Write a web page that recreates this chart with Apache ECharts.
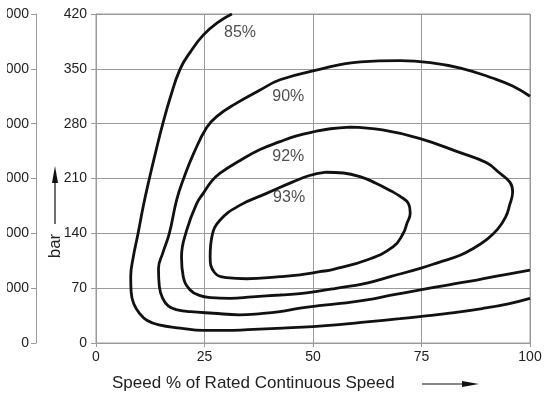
<!DOCTYPE html>
<html>
<head>
<meta charset="utf-8">
<script src="https://cdn.jsdelivr.net/npm/echarts@6/dist/echarts.min.js"></script>
<style>
  html, body { margin: 0; padding: 0; background: #fff; }
  /* the figure is trimmed on its left edge, hiding the leading digits of the psi scale */
  #frame { position: absolute; left: 7px; top: 0; width: 537px; height: 396px; overflow: hidden; }
  #chart { position: absolute; left: -7px; top: 0; width: 544px; height: 396px; }
</style>
</head>
<body>
<div id="frame"><div id="chart"></div></div>
<script>
// Speed axis (% of rated continuous speed) and pressure axis (bar)
const speedTicks = [0, 25, 50, 75, 100];
const barTicks = [0, 70, 140, 210, 280, 350, 420];
const psiTicks = ['0', '1000', '2000', '3000', '4000', '5000', '6000'];

// Efficiency contours as [speed %, pressure bar]
const eff85 = [[31.3,420],[28,409],[24.7,393],[21.8,372],[19.4,350],[17.2,315],[15.4,280],[13.8,245],
  [12.3,210],[10.9,175],[9.7,140],[8.6,110],[8.0,85],[8.1,65],[8.7,50],[10,38],[11.7,29],[14.5,23],
  [19.4,19],[24.7,16],[30,16],[35,17],[43,19],[50,21],[56,23.5],[62.4,27],[70,31],[75,34],[82,38.5],
  [89,44],[95,50],[100,57]];
const eff90 = [[100,315],[96,328],[91.5,338],[84,351],[77,358],[70,360.5],[61,359],[50.5,348],
  [42.4,336],[37.8,323],[32,305],[28,290],[25.5,275],[22.5,242],[20.2,210],[18.6,183],[16.9,140],
  [15.4,115],[14.4,95],[14.6,72],[15.3,58],[16.7,47],[19,42],[21.7,40],[27,38],[33,36],[38,37.5],
  [42.4,40],[47,44.5],[52,48],[57,51],[62.4,55],[68,61],[74.7,67.7],[81,74],[87.7,80.4],[94,87],[100,93]];
const eff92 = [[58.5,275.5],[66,272],[74.7,261],[83.9,243],[90,230],[93,217],[95.4,205],[96,193],
  [95.3,176],[94.4,161],[92.5,145],[90,132],[87,121],[83.9,112],[79,103],[74.7,95.3],[68,85],[62.4,76.5],
  [55,69.5],[51.6,66.5],[47,63],[42.4,61.3],[36,59],[30.9,57],[26.5,58],[24,60.5],[21.7,67.7],[20.1,84.7],
  [19.7,110],[20.9,144],[23.2,178],[24.7,191],[26.7,207],[28.6,217],[33.2,233],[37.8,247],[42.4,257],
  [46,264],[50.5,270],[54,273.5],[58.5,275.5]];
const eff93 = [[53,218],[57,217],[61,212],[64.5,204],[68,194],[70,187.5],[72,178],[72.4,166],[71.6,152],
  [70.8,140],[68.5,123],[62.4,106],[54.7,94],[51.6,91],[47,87],[42.4,84.7],[34.7,82],[30.1,83.4],[27.3,90],
  [26.3,110],[26.7,135.7],[28.6,157],[33.2,176],[39.3,191],[45.5,206],[49,213.5],[53,218]];

const contourNames = ['85%', '90%', '92%', '93%'];
const contours = [eff85, eff90, eff92, eff93];
// label anchor points [speed %, bar] for each contour
const labelPoints = [[33.2,396],[44.3,314.5],[44.3,238],[44.5,185]];

const axisGray = '#9a9a9a';
const textColor = '#222';
const tickFont = '"Liberation Sans", Arial, Helvetica, sans-serif';
const plainFont = '"Liberation Sans", Arial, Helvetica, sans-serif';

const chart = echarts.init(document.getElementById('chart'), null, { renderer: 'canvas' });

const series = contours.map((pts, i) => ({
  name: contourNames[i],
  type: 'line',
  data: pts,
  smooth: 0.45,
  symbol: 'none',
  lineStyle: { color: '#111', width: 2.8 },
  z: 5
}));

series.push({
  type: 'scatter',
  symbolSize: 0,
  data: labelPoints.map((p, i) => ({ value: p, name: contourNames[i] })),
  label: {
    show: true,
    position: 'inside',
    formatter: p => p.name,
    color: textColor,
    fontSize: 16,
    fontFamily: plainFont
  },
  z: 6
});

chart.setOption({
  animation: false,
  backgroundColor: '#fff',
  grid: {
    left: 96, right: 14, top: 14, bottom: 53,
    containLabel: false,
    outerBoundsMode: 'none',
    show: true, borderColor: axisGray, borderWidth: 1
  },
  xAxis: {
    type: 'value',
    min: speedTicks[0], max: speedTicks[speedTicks.length - 1], interval: 25,
    axisLine: { show: true, lineStyle: { color: axisGray, width: 1 } },
    axisTick: { show: true, length: 4, lineStyle: { color: axisGray } },
    axisLabel: { margin: 7, color: textColor, fontSize: 14, fontFamily: tickFont },
    splitLine: { show: true, lineStyle: { color: axisGray, width: 1 } }
  },
  yAxis: [{
    type: 'value',
    min: barTicks[0], max: barTicks[barTicks.length - 1], interval: 70,
    axisLine: { show: true, lineStyle: { color: axisGray, width: 1 } },
    axisTick: { show: true, length: 5, lineStyle: { color: axisGray } },
    axisLabel: { margin: 9, color: textColor, fontSize: 14, fontFamily: tickFont },
    splitLine: { show: true, lineStyle: { color: axisGray, width: 1 } }
  }, {
    type: 'value',
    position: 'left',
    offset: 60,
    min: barTicks[0], max: barTicks[barTicks.length - 1], interval: 70,
    axisLine: { show: true, lineStyle: { color: axisGray, width: 1 } },
    axisTick: { show: true, length: 5, lineStyle: { color: axisGray } },
    axisLabel: {
      margin: 7, color: textColor, fontSize: 14, fontFamily: tickFont,
      formatter: v => psiTicks[barTicks.indexOf(v)]
    },
    splitLine: { show: false }
  }],
  graphic: [
    {
      type: 'text', left: 112, top: 375,
      style: { text: 'Speed % of Rated Continuous Speed', fill: textColor, font: '17px ' + plainFont }
    },
    { type: 'line', shape: { x1: 422, y1: 384, x2: 466, y2: 384 }, style: { stroke: '#111', lineWidth: 1.2 } },
    { type: 'polygon', shape: { points: [[462, 381], [479, 384], [462, 387]] }, style: { fill: '#111' } },
    {
      type: 'text', x: 55, y: 246, rotation: Math.PI / 2,
      style: { text: 'bar', fill: textColor, font: '17px ' + plainFont, align: 'center', verticalAlign: 'middle' }
    },
    { type: 'line', shape: { x1: 55, y1: 224, x2: 55, y2: 178 }, style: { stroke: '#111', lineWidth: 1.2 } },
    { type: 'polygon', shape: { points: [[52, 183], [55, 166], [58, 183]] }, style: { fill: '#111' } }
  ],
  series: series
});
</script>
</body>
</html>
